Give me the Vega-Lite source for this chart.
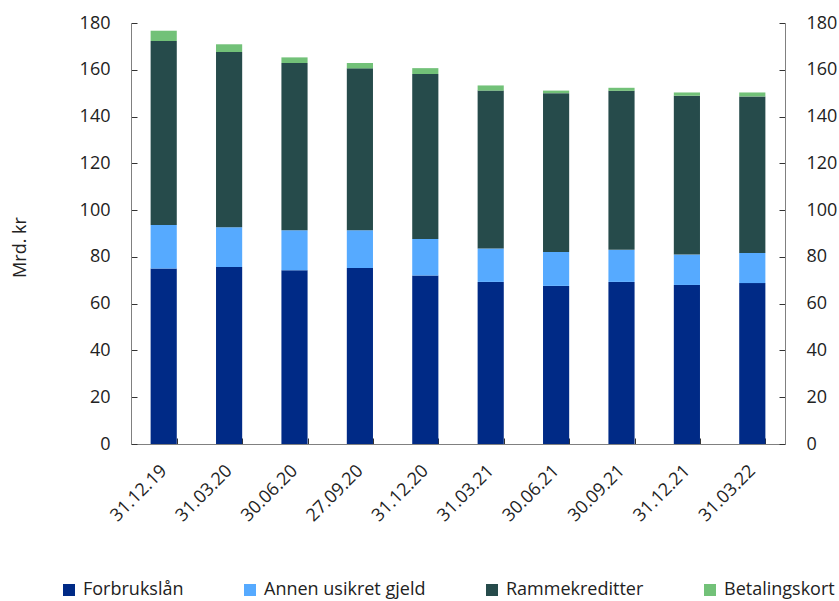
{
  "$schema": "https://vega.github.io/schema/vega-lite/v6.json",
  "width": 654,
  "height": 421,
  "autosize": {"type": "none"},
  "padding": {"left": 131, "top": 23, "right": 54, "bottom": 157},
  "background": "white",
  "config": {
    "font": "Open Sans",
    "view": {"stroke": null},
    "axis": {"grid": false, "labelFont": "Open Sans", "labelFontSize": 18, "labelColor": "#222222", "domainColor": "#808080", "tickColor": "#333333", "titleFont": "Open Sans", "titleFontSize": 18, "titleFontWeight": "normal", "titleColor": "#222222"},
    "legend": {"labelFont": "Open Sans", "labelFontSize": 18, "labelColor": "#222222", "labelLimit": 400}
  },
  "data": {
    "values": [
      {"date": "31.12.19", "series": "Forbrukslån", "value": 75.0},
      {"date": "31.12.19", "series": "Annen usikret gjeld", "value": 18.6},
      {"date": "31.12.19", "series": "Rammekreditter", "value": 78.7},
      {"date": "31.12.19", "series": "Betalingskort", "value": 4.4},
      {"date": "31.03.20", "series": "Forbrukslån", "value": 75.7},
      {"date": "31.03.20", "series": "Annen usikret gjeld", "value": 17.0},
      {"date": "31.03.20", "series": "Rammekreditter", "value": 74.9},
      {"date": "31.03.20", "series": "Betalingskort", "value": 3.3},
      {"date": "30.06.20", "series": "Forbrukslån", "value": 74.3},
      {"date": "30.06.20", "series": "Annen usikret gjeld", "value": 17.1},
      {"date": "30.06.20", "series": "Rammekreditter", "value": 71.5},
      {"date": "30.06.20", "series": "Betalingskort", "value": 2.4},
      {"date": "27.09.20", "series": "Forbrukslån", "value": 75.3},
      {"date": "27.09.20", "series": "Annen usikret gjeld", "value": 16.1},
      {"date": "27.09.20", "series": "Rammekreditter", "value": 69.2},
      {"date": "27.09.20", "series": "Betalingskort", "value": 2.3},
      {"date": "31.12.20", "series": "Forbrukslån", "value": 72.0},
      {"date": "31.12.20", "series": "Annen usikret gjeld", "value": 15.6},
      {"date": "31.12.20", "series": "Rammekreditter", "value": 70.6},
      {"date": "31.12.20", "series": "Betalingskort", "value": 2.5},
      {"date": "31.03.21", "series": "Forbrukslån", "value": 69.3},
      {"date": "31.03.21", "series": "Annen usikret gjeld", "value": 14.3},
      {"date": "31.03.21", "series": "Rammekreditter", "value": 67.5},
      {"date": "31.03.21", "series": "Betalingskort", "value": 2.2},
      {"date": "30.06.21", "series": "Forbrukslån", "value": 67.6},
      {"date": "30.06.21", "series": "Annen usikret gjeld", "value": 14.5},
      {"date": "30.06.21", "series": "Rammekreditter", "value": 67.9},
      {"date": "30.06.21", "series": "Betalingskort", "value": 1.1},
      {"date": "30.09.21", "series": "Forbrukslån", "value": 69.3},
      {"date": "30.09.21", "series": "Annen usikret gjeld", "value": 13.7},
      {"date": "30.09.21", "series": "Rammekreditter", "value": 68.0},
      {"date": "30.09.21", "series": "Betalingskort", "value": 1.3},
      {"date": "31.12.21", "series": "Forbrukslån", "value": 68.0},
      {"date": "31.12.21", "series": "Annen usikret gjeld", "value": 13.0},
      {"date": "31.12.21", "series": "Rammekreditter", "value": 67.9},
      {"date": "31.12.21", "series": "Betalingskort", "value": 1.4},
      {"date": "31.03.22", "series": "Forbrukslån", "value": 68.8},
      {"date": "31.03.22", "series": "Annen usikret gjeld", "value": 12.9},
      {"date": "31.03.22", "series": "Rammekreditter", "value": 66.9},
      {"date": "31.03.22", "series": "Betalingskort", "value": 1.7}
    ]
  },
  "encoding": {
    "x": {
      "field": "date",
      "type": "nominal",
      "sort": null,
      "scale": {"paddingInner": 0.6, "paddingOuter": 0.3},
      "axis": {"title": null, "labelAngle": -45, "labelAlign": "right", "labelBaseline": "middle", "labelPadding": 30, "tickBand": "extent", "tickSize": -6, "domainColor": "#808080"}
    }
  },
  "layer": [
    {
      "mark": {"type": "bar"},
      "encoding": {
        "y": {
          "field": "value",
          "type": "quantitative",
          "stack": "zero",
          "scale": {"domain": [0, 180]},
          "axis": {"title": "Mrd. kr", "orient": "left", "values": [0,20,40,60,80,100,120,140,160,180], "tickSize": -6, "labelPadding": 27, "labelOverlap": false, "titleX": -102, "titleY": 224, "titleAngle": -90, "titleBaseline": "bottom", "titleAlign": "center"}
        },
        "color": {
          "field": "series",
          "type": "nominal",
          "sort": ["Forbrukslån", "Annen usikret gjeld", "Rammekreditter", "Betalingskort"],
          "scale": {
            "domain": ["Forbrukslån", "Annen usikret gjeld", "Rammekreditter", "Betalingskort"],
            "range": ["#002A86", "#56AAFF", "#264B4B", "#72C178"]
          },
          "legend": {
            "title": null,
            "orient": "none",
            "direction": "horizontal",
            "legendX": -71,
            "legendY": 558,
            "symbolType": "square",
            "symbolSize": 144,
            "symbolStrokeWidth": 0,
            "labelOffset": 5,
            "columnPadding": 57,
            "padding": 0
          }
        },
        "order": {"field": "series_order", "type": "quantitative"}
      }
    },
    {
      "mark": {"type": "bar", "opacity": 0},
      "encoding": {
        "y": {
          "aggregate": "sum",
          "field": "value",
          "type": "quantitative",
          "scale": {"domain": [0, 180]},
          "axis": {"title": null, "orient": "right", "values": [0,20,40,60,80,100,120,140,160,180], "tickSize": -6, "labelPadding": 27, "labelOverlap": false}
        }
      }
    }
  ],
  "resolve": {"axis": {"y": "independent"}}
}
